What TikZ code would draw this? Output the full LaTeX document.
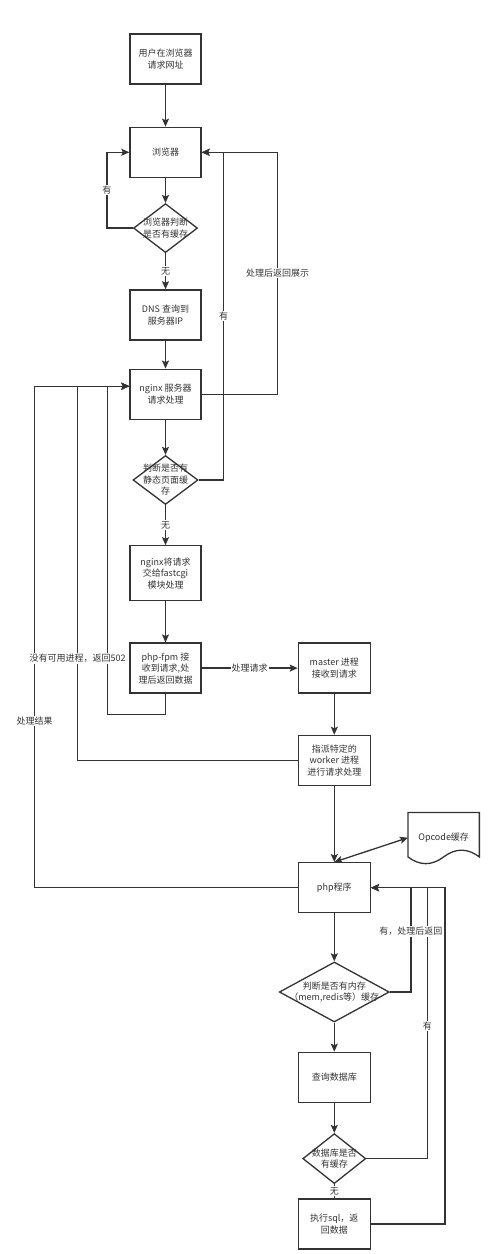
\documentclass[tikz,border=0pt]{standalone}
\usepackage{fontspec}
\setmainfont{Noto Sans CJK SC}
\usetikzlibrary{shapes.geometric, arrows.meta, positioning}
\definecolor{linegray}{RGB}{51,51,51}
\tikzstyle{process} = [rectangle, minimum width=71pt, minimum height=50pt, inner sep=0pt, align=center, draw=linegray, line width=1.3pt]
\tikzstyle{decision} = [diamond, inner sep=0pt, draw=linegray, line width=1.3pt]
\tikzstyle{dtext} = [align=center, inner sep=0pt]
\tikzstyle{arrow} = [line width=1.3pt, draw=linegray, ->, >={Stealth[length=8pt,width=7pt,inset=1.5pt]}]
\tikzstyle{link} = [line width=1.3pt, draw=linegray]
\tikzstyle{lbl} = [fill=white, inner sep=1pt]

\begin{document}
\begin{tikzpicture}[font=\fontsize{9}{11.5}\selectfont, text=linegray]
			\useasboundingbox (0,0) rectangle (500pt,-1254pt);
			% browser / nginx column
			\node (user) [process] at (165.5pt,-59pt) {用户在浏览器\\请求网址};
			\node (browser) [process, below=42pt of user] {浏览器};
			\node (d1) [decision, minimum width=64pt, minimum height=49pt, below=25pt of browser, label={[dtext]center:浏览器判断\\是否有缓存}] {};
			\node (dns) [process, below=36pt of d1] {DNS 查询到\\服务器IP};
			\node (nginx) [process, below=28pt of dns] {nginx 服务器\\请求处理};
			\node (d2) [decision, minimum width=65pt, minimum height=49pt, below=35pt of nginx, label={[dtext]center:判断是否有\\静态页面缓\\存}] {};
			\node (fastcgi) [process, minimum height=55pt, below=40pt of d2] {nginx将请求\\交给fastcgi\\模块处理};
			\node (phpfpm) [process, below=41pt of fastcgi] {php-fpm 接\\收到请求,处\\理后返回数据};
			% php column
			\node (master) [process, minimum width=72pt, right=96pt of phpfpm] {master 进程\\接收到请求};
			\node (worker) [process, minimum width=72pt, below=41pt of master] {指派特定的\\worker 进程\\进行请求处理};
			\node (php) [process, minimum width=72pt, below=76pt of worker] {php程序};
			\node (opcode) [rectangle, minimum width=71pt, minimum height=50pt, inner sep=0pt, right=37pt of php, yshift=50pt] {Opcode缓存};
			\node (d3) [decision, minimum width=110pt, minimum height=60pt, below=48pt of php, label={[dtext]center:判断是否有内存\\（mem,redis等）缓存}] {};
			\node (query) [process, minimum width=72pt, below=29pt of d3] {查询数据库};
			\node (d4) [decision, minimum width=63pt, minimum height=50pt, below=30pt of query, label={[dtext]center:数据库是否\\有缓存}] {};
			\node (sql) [process, minimum width=72pt, below=14pt of d4] {执行sql，返\\回数据};
			\coordinate (nin) at ([yshift=8pt]nginx.west);

			\draw [link] (opcode.north west) -- (opcode.north east) -- ([yshift=6pt]opcode.south east)
				.. controls ([xshift=-12pt,yshift=15pt]opcode.south east) and ([xshift=12pt,yshift=15pt]opcode.south) .. ([yshift=6pt]opcode.south)
				.. controls ([xshift=-12pt,yshift=-3pt]opcode.south) and ([xshift=12pt,yshift=-3pt]opcode.south west) .. ([yshift=6pt]opcode.south west) -- cycle;

			\draw [arrow] (user) -- (browser);
			\draw [arrow] (browser) -- (d1);
			\draw [arrow] (d1.west) -- ++(-26pt,0) |- node[lbl, pos=0.25] {有} (browser.west);
			\draw [arrow] (d1) -- node[lbl] {无} (dns);
			\draw [arrow] (dns) -- (nginx);
			\draw [arrow] (nginx.east) -- ++(76pt,0) |- node[lbl, pos=0.25] {处理后返回展示} (browser.east);
			\draw [arrow] (d2.east) -- ++(25pt,0) |- node[lbl, pos=0.25] {有} (browser.east);
			\draw [arrow] (nginx) -- (d2);
			\draw [arrow] (d2) -- node[lbl] {无} (fastcgi);
			\draw [arrow] (fastcgi) -- (phpfpm);
			\draw [arrow] (phpfpm) -- node[lbl] {处理请求} (master);
			\draw [arrow] (php.west) -- ++(-263pt,0) |- node[lbl, pos=0.166] {处理结果} (nin);
			\draw [arrow] (phpfpm.south) -- ++(0,-21pt) -- ++(-58pt,0) |- (nin);
			\draw [arrow] (worker.west) -- ++(-220pt,0) |- node[lbl, pos=0.136] {没有可用进程，返回502} (nin);
			\draw [arrow] (master) -- (worker);
			\draw [arrow] (worker) -- (php);
			\draw [arrow, <->] (php.north) -- (opcode.west);
			\draw [arrow] (php) -- (d3);
			\draw [arrow] (d3) -- (query);
			\draw [arrow] (query) -- (d4);
			\draw [link] (d4) -- node[lbl] {无} (sql);
			\draw [arrow] (sql.east) -- ++(74pt,0) |- (php.east);
			\draw [arrow] (d4.east) -- ++(61pt,0) |- node[lbl, pos=0.245] {有} (php.east);
			\draw [arrow] (d3.east) -- ++(21pt,0) |- node[lbl, pos=0.29] {有，处理后返回} (php.east);
		\end{tikzpicture}
\end{document}
